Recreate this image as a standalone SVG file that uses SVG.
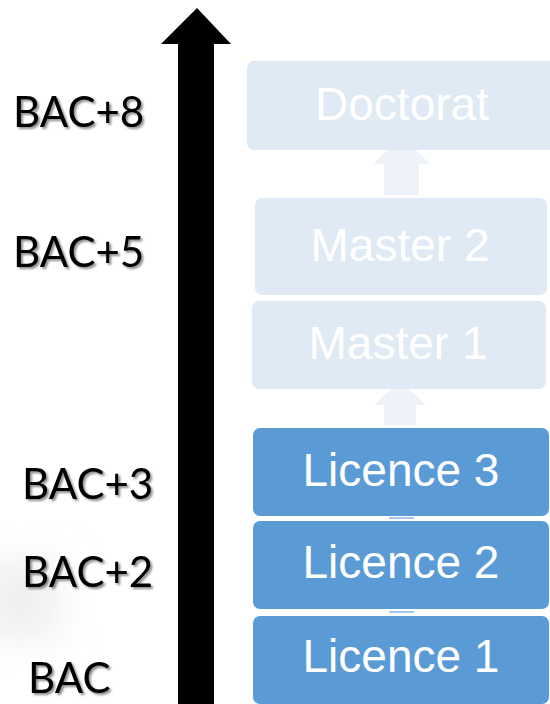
<svg xmlns="http://www.w3.org/2000/svg" width="550" height="704" viewBox="0 0 550 704">
  <defs>
    <filter id="sh" x="-10%" y="-20%" width="130%" height="150%">
      <feDropShadow dx="2" dy="2" stdDeviation="1.2" flood-color="#000" flood-opacity="0.45"/>
    </filter>
    <filter id="blur" x="-50%" y="-50%" width="200%" height="200%">
      <feGaussianBlur stdDeviation="18"/>
    </filter>
    <style>
      .lbl { font-family: Lato, "Open Sans", sans-serif; font-size: 42px; fill: #000; filter: url(#sh); }
      .pale { fill: #dfeaf5; }
      .solid { fill: #5b9bd5; }
      .btxt { font-family: "Liberation Sans", Arial, sans-serif; font-size: 46px; fill: #ffffff; text-anchor: middle; }
      .conn { fill: #eef3fa; }
      .tick { stroke: #a9c5ea; stroke-width: 2; }
    </style>
  </defs>
  <rect width="550" height="704" fill="#ffffff"/>
  <rect x="-20" y="560" width="80" height="80" fill="#f0f0f0" filter="url(#blur)"/>

  <g id="axis">
    <polygon points="197,8 231,44 214,44 214,704 178,704 178,44 161,44" fill="#000"/>
  </g>

  <g id="labels">
    <text class="lbl" x="13" y="127">BAC+8</text>
    <text class="lbl" x="13" y="267">BAC+5</text>
    <text class="lbl" x="22" y="499">BAC+3</text>
    <text class="lbl" x="22" y="587">BAC+2</text>
    <text class="lbl" x="28" y="693">BAC</text>
  </g>

  <g id="connectors">
    <polygon class="conn" points="402,136 430,164 419,164 419,195 384,195 384,164 373,164"/>
    <polygon class="conn" points="400,381 426,405 416,405 416,425 384,425 384,405 374,405"/>
    <line class="tick" x1="389" y1="518" x2="414" y2="518"/>
    <line class="tick" x1="389" y1="612" x2="414" y2="612"/>
  </g>

  <g id="doctorat">
    <rect class="pale" x="247" y="61" width="310" height="89" rx="7"/>
    <text class="btxt" x="402" y="120">Doctorat</text>
  </g>
  <g id="master2">
    <rect class="pale" x="255" y="198" width="292" height="97" rx="7"/>
    <text class="btxt" x="400" y="261">Master 2</text>
  </g>
  <g id="master1">
    <rect class="pale" x="252" y="301" width="294" height="88" rx="7"/>
    <text class="btxt" x="398" y="359">Master 1</text>
  </g>
  <g id="licence3">
    <rect class="solid" x="253" y="428" width="296" height="88" rx="7"/>
    <text class="btxt" x="401" y="486">Licence 3</text>
  </g>
  <g id="licence2">
    <rect class="solid" x="253" y="521" width="296" height="88" rx="7"/>
    <text class="btxt" x="401" y="578">Licence 2</text>
  </g>
  <g id="licence1">
    <rect class="solid" x="253" y="616" width="296" height="88" rx="7"/>
    <text class="btxt" x="401" y="672">Licence 1</text>
  </g>
</svg>
